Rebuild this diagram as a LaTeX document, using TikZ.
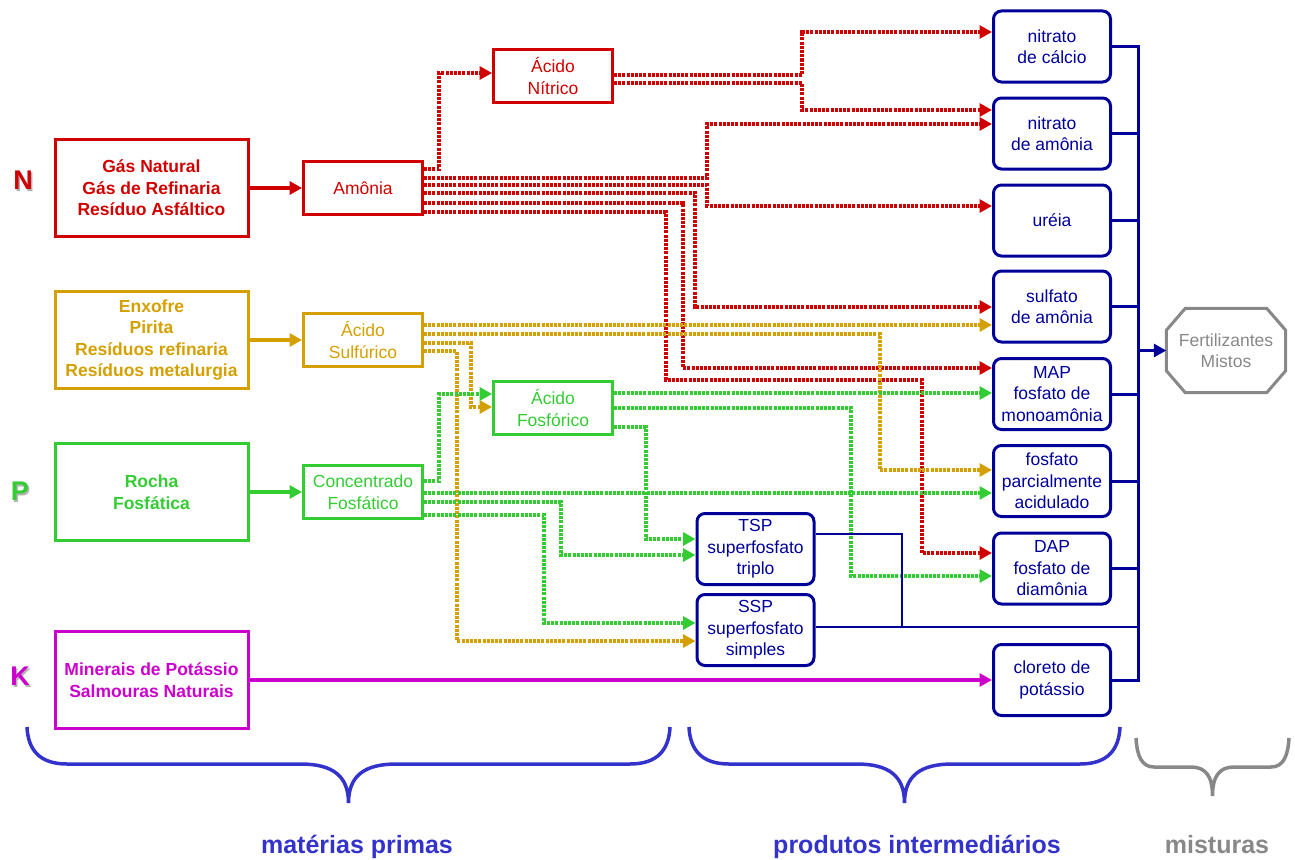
\documentclass[tikz,border=0pt]{standalone}
\usepackage{fontspec}
\setmainfont{Liberation Sans}
\usetikzlibrary{arrows.meta}

\definecolor{vermelho}{RGB}{208,0,0}
\definecolor{ouro}{RGB}{212,160,0}
\definecolor{verde}{RGB}{51,204,51}
\definecolor{roxo}{RGB}{204,0,204}
\definecolor{marinho}{RGB}{0,0,153}
\definecolor{azul}{RGB}{51,51,204}
\definecolor{cinza}{RGB}{136,136,136}

% letra com sombra
\newcommand{\letra}[2]{\makebox[0pt][l]{\hspace{1.5pt}\raisebox{-1.5pt}{\textcolor{black!30}{#2}}}\textcolor{#1}{#2}}

% chave: cor, esquerda, direita, topo, meio, ponta, curva
\newcommand{\chave}[7]{%
  \pgfmathsetmacro{\chvx}{(#2+#3)/2}%
  \draw[#1,line width=3.5pt] (#2,#4)
    .. controls ({#2+1},{#4+0.6*(#5-#4)}) and ({#2+0.3*#7},#5) .. ({#2+#7},#5)
    -- ({\chvx-1.2*#7},#5)
    .. controls ({\chvx-0.4*#7},#5) and (\chvx,{#5+0.3*(#6-#5)}) .. (\chvx,#6)
    .. controls (\chvx,{#5+0.3*(#6-#5)}) and ({\chvx+0.4*#7},#5) .. ({\chvx+1.2*#7},#5)
    -- ({#3-#7},#5)
    .. controls ({#3-0.3*#7},#5) and ({#3-1},{#4+0.6*(#5-#4)}) .. (#3,#4);}

\begin{document}
\begin{tikzpicture}[x=1pt,y=-1pt,
  texto/.style={align=center,font=\fontsize{17.5}{21.5}\selectfont},
  mp/.style={draw=#1,text=#1,line width=3pt,minimum width=193pt,minimum height=97pt,align=center,font=\bfseries\fontsize{17.5}{21.5}\selectfont},
  inter/.style={texto,draw=#1,text=#1,line width=2.8pt,minimum width=119pt,minimum height=53pt,inner sep=0pt},
  prod/.style={texto,draw=marinho,text=marinho,line width=3pt,rounded corners=8pt,minimum width=117pt,minimum height=71pt,inner sep=0pt},
  rota/.style={draw=#1,line width=3.3pt,dash pattern=on 3pt off 1.2pt,-{Triangle[length=12.5pt,width=13pt]}},
  seta/.style={draw=#1,line width=3.5pt,-{Triangle[length=12.5pt,width=13pt]}},
  barra/.style={draw=marinho,line width=3pt},
  fio/.style={draw=marinho,line width=1.5pt},
  sigla/.style={font=\bfseries\fontsize{27}{27}\selectfont},
  grupo/.style={font=\bfseries\fontsize{25}{25}\selectfont,anchor=base}]

  \useasboundingbox (0,0) rectangle (1295,859);

  % N P K
  \node[sigla] (N) at (23,181) {\letra{vermelho}{N}};
  \node[sigla] (P) at (20,492) {\letra{verde}{P}};
  \node[sigla] (K) at (20,677) {\letra{roxo}{K}};

  % materias primas
  \node[mp=vermelho] (Gas) at (151.5,188) {Gás Natural\\Gás de Refinaria\\Resíduo Asfáltico};
  \node[mp=ouro] (Enx) at (151.5,340) {Enxofre\\Pirita\\Resíduos refinaria\\Resíduos metalurgia};
  \node[mp=verde] (Rocha) at (151.5,492) {Rocha\\Fosfática};
  \node[mp=roxo] (Min) at (151.5,680) {Minerais de Potássio\\Salmouras Naturais};

  % intermediarios
  \node[inter=vermelho] (Amo) at (363,188) {Amônia};
  \node[inter=vermelho] (HNO) at (553,76) {Ácido\\Nítrico};
  \node[inter=ouro] (HSO) at (363,340) {Ácido\\Sulfúrico};
  \node[inter=verde] (HPO) at (553,408) {Ácido\\Fosfórico};
  \node[inter=verde] (Conc) at (363,492) {Concentrado\\Fosfático};

  % produtos
  \node[prod] (NC) at (1052,46.5) {nitrato\\de cálcio};
  \node[prod] (NA) at (1052,133.5) {nitrato\\de amônia};
  \node[prod] (Ur) at (1052,220.5) {uréia};
  \node[prod] (SA) at (1052,306.5) {sulfato\\de amônia};
  \node[prod] (MAP) at (1052,394) {MAP\\fosfato de\\monoamônia};
  \node[prod] (FPA) at (1052,481) {fosfato\\parcialmente\\acidulado};
  \node[prod] (DAP) at (1052,568.5) {DAP\\fosfato de\\diamônia};
  \node[prod] (KCl) at (1052,680) {cloreto de\\potássio};
  \node[prod] (TSP) at (755.5,549) {TSP\\superfosfato\\triplo};
  \node[prod] (SSP) at (755.5,630) {SSP\\superfosfato\\simples};

  % octogono
  \node[texto,text=cinza,minimum width=119pt,minimum height=84pt] (Mix) at (1226,350.5) {Fertilizantes\\Mistos};
  \draw[cinza,line width=3pt] ([xshift=19pt]Mix.north west) -- ([xshift=-19pt]Mix.north east)
    -- ([yshift=-22pt]Mix.north east) -- ([yshift=22pt]Mix.south east)
    -- ([xshift=-19pt]Mix.south east) -- ([xshift=19pt]Mix.south west)
    -- ([yshift=22pt]Mix.south west) -- ([yshift=-22pt]Mix.north west) -- cycle;

  % setas cheias
  \draw[seta=vermelho] (Gas.east) -- (Amo.west);
  \draw[seta=ouro] (Enx.east) -- (HSO.west);
  \draw[seta=verde] (Rocha.east) -- (Conc.west);
  \draw[seta=roxo] (Min.east) -- (KCl.west);

  % nitrogenio
  \draw[rota=vermelho] (Amo.east |- 0,169) -| (439,73) -- (HNO.west |- 0,73);
  \draw[rota=vermelho] (Amo.east |- 0,178) -| (707,124) -- (NA.west |- 0,124);
  \draw[rota=vermelho] (Amo.east |- 0,185) -| (707,206) -- (Ur.west |- 0,206);
  \draw[rota=vermelho] (Amo.east |- 0,193) -| (695,307) -- (SA.west |- 0,307);
  \draw[rota=vermelho] (Amo.east |- 0,203) -| (683,368) -- (MAP.west |- 0,368);
  \draw[rota=vermelho] (Amo.east |- 0,212) -| (666,380) -| (922,553) -- (DAP.west |- 0,553);
  \draw[rota=vermelho] (HNO.east |- 0,75) -| (802,32) -- (NC.west |- 0,32);
  \draw[rota=vermelho] (HNO.east |- 0,83) -| (802,110) -- (NA.west |- 0,110);

  % enxofre
  \draw[rota=ouro] (HSO.east |- 0,325) -- (SA.west |- 0,325);
  \draw[rota=ouro] (HSO.east |- 0,334) -| (880,470) -- (FPA.west |- 0,470);
  \draw[rota=ouro] (HSO.east |- 0,343) -| (471,407) -- (HPO.west |- 0,407);
  \draw[rota=ouro] (HSO.east |- 0,351) -| (457,641) -- (SSP.west |- 0,641);

  % fosforo
  \draw[rota=verde] (Conc.east |- 0,481) -| (439,394) -- (HPO.west |- 0,394);
  \draw[rota=verde] (Conc.east |- 0,493) -- (FPA.west |- 0,493);
  \draw[rota=verde] (Conc.east |- 0,502) -| (561,555) -- (TSP.west |- 0,555);
  \draw[rota=verde] (Conc.east |- 0,515) -| (544,623) -- (SSP.west |- 0,623);
  \draw[rota=verde] (HPO.east |- 0,393) -- (MAP.west |- 0,393);
  \draw[rota=verde] (HPO.east |- 0,408) -| (851,576) -- (DAP.west |- 0,576);
  \draw[rota=verde] (HPO.east |- 0,427) -| (646,539) -- (TSP.west |- 0,539);

  % misturas
  \coordinate (Bt) at (1138,46.5);
  \draw[barra] (NC.east) -| (Bt |- KCl.east) -- (KCl.east);
  \foreach \prd in {NA,Ur,SA,MAP,FPA,DAP}
    \draw[barra] (\prd.east) -- (Bt |- \prd.east);
  \draw[barra,-{Triangle[length=12.5pt,width=13pt]}] (Bt |- Mix.west) -- (Mix.west);
  \draw[fio] (TSP.east |- 0,534) -| (902,627);
  \draw[fio] (SSP.east |- 0,627) -- (Bt |- 0,627);

  % chaves
  \chave{azul}{27}{670}{727}{764}{803}{40}
  \chave{azul}{689}{1120}{727}{764}{803}{40}
  \chave{cinza}{1136}{1289}{738}{767}{796}{18}
  \node[grupo,text=azul] (G1) at (357,853) {matérias primas};
  \node[grupo,text=azul] (G2) at (917,853) {produtos intermediários};
  \node[grupo,text=cinza] (G3) at (1217,853) {misturas};
\end{tikzpicture}
\end{document}
